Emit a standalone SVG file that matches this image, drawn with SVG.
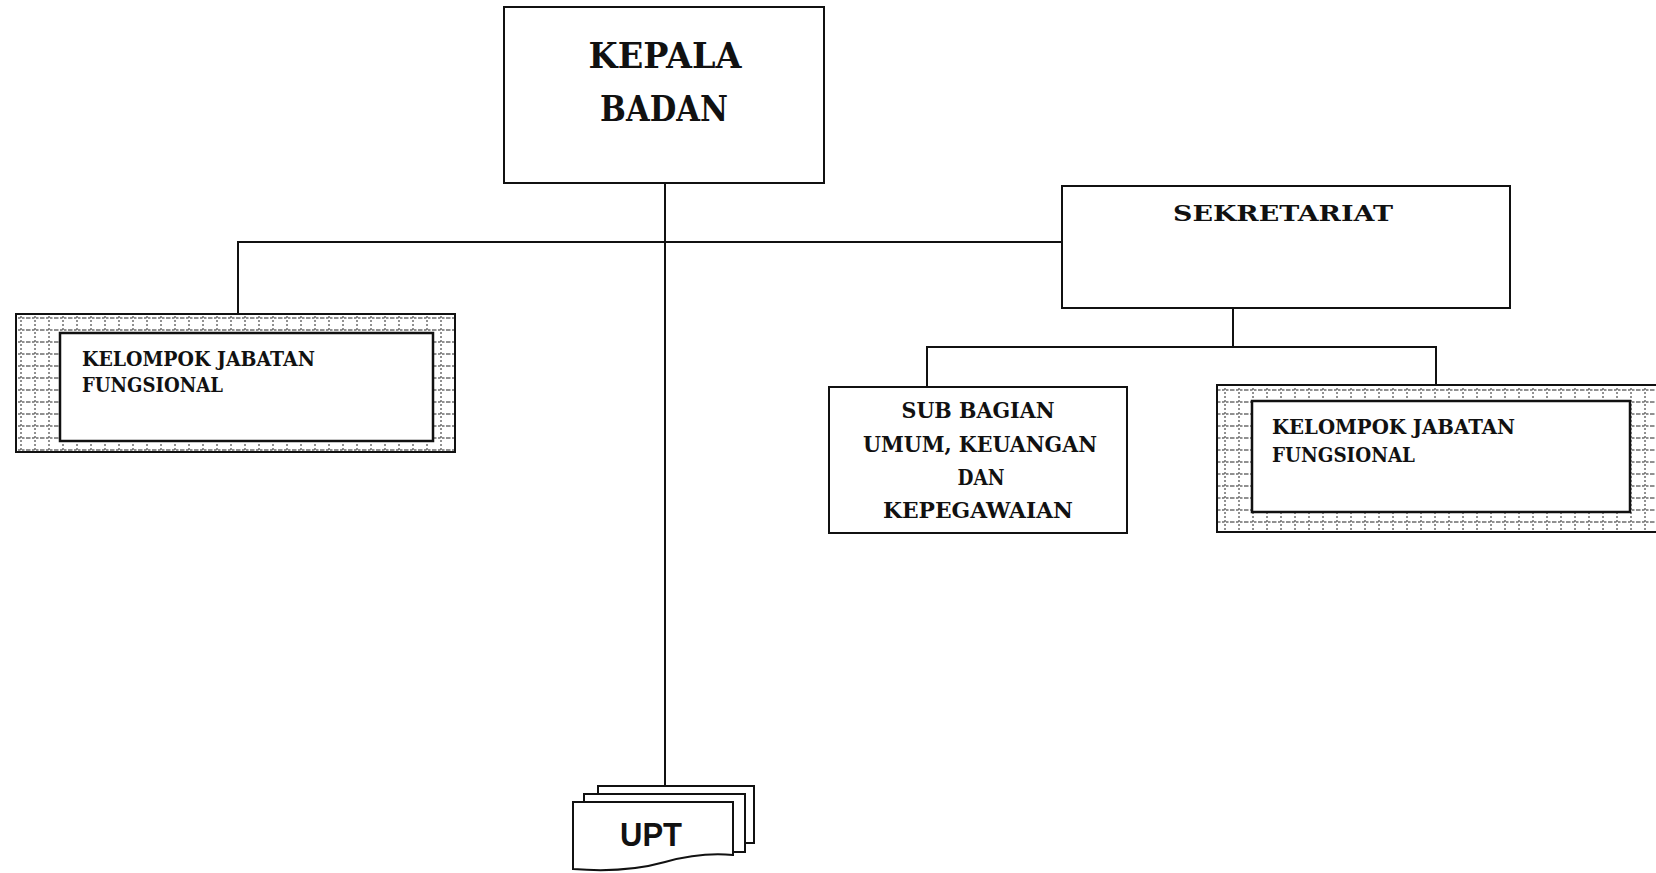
<svg xmlns="http://www.w3.org/2000/svg" width="1656" height="873" viewBox="0 0 1656 873">
<style>
.box{fill:#fff;stroke:#111;stroke-width:2}
.inner{fill:#fff;stroke:#111;stroke-width:2.5}
.conn line{stroke:#111;stroke-width:2}
.t{font-family:"DejaVu Serif","Liberation Serif",serif;font-weight:bold;fill:#111}
.s{font-family:"Liberation Sans",Arial,sans-serif;font-weight:bold;fill:#111}
</style>
<defs>
<pattern id="hatch" width="14" height="12" patternUnits="userSpaceOnUse">
<rect width="14" height="12" fill="#fff"/>
<line x1="0" y1="6" x2="14" y2="6" stroke="#222" stroke-width="1" stroke-dasharray="2.5 1.5"/>
<line x1="7" y1="0" x2="7" y2="12" stroke="#222" stroke-width="1" stroke-dasharray="2 2"/>
</pattern>
</defs>
<rect width="1656" height="873" fill="#fff"/>
<g class="conn" id="connectors">
<line x1="665" y1="183" x2="665" y2="786"/>
<line x1="238" y1="242" x2="1062" y2="242"/>
<line x1="238" y1="241" x2="238" y2="314"/>
<line x1="1233" y1="308" x2="1233" y2="347"/>
<line x1="927" y1="347" x2="1436" y2="347"/>
<line x1="927" y1="346" x2="927" y2="387"/>
<line x1="1436" y1="346" x2="1436" y2="385"/>
</g>
<g id="kepala">
<rect class="box" x="504" y="7" width="320" height="176"/>
<text class="t" x="665" y="68" font-size="36" text-anchor="middle" textLength="153" lengthAdjust="spacingAndGlyphs">KEPALA</text>
<text class="t" x="664" y="121" font-size="36" text-anchor="middle" textLength="128" lengthAdjust="spacingAndGlyphs">BADAN</text>
</g>
<g id="sekretariat">
<rect class="box" x="1062" y="186" width="448" height="122"/>
<text class="t" x="1283" y="221" font-size="22" text-anchor="middle" textLength="220" lengthAdjust="spacingAndGlyphs">SEKRETARIAT</text>
</g>
<g id="kjf-left">
<rect x="16" y="314" width="439" height="138" fill="url(#hatch)" stroke="#111" stroke-width="2"/>
<rect class="inner" x="60" y="333" width="373" height="108"/>
<text class="t" x="82" y="366" font-size="21" textLength="233" lengthAdjust="spacingAndGlyphs">KELOMPOK JABATAN</text>
<text class="t" x="82" y="392" font-size="21" textLength="141" lengthAdjust="spacingAndGlyphs">FUNGSIONAL</text>
</g>
<g id="subbagian">
<rect class="box" x="829" y="387" width="298" height="146"/>
<text class="t" x="978" y="418" font-size="22" text-anchor="middle" textLength="153" lengthAdjust="spacingAndGlyphs">SUB BAGIAN</text>
<text class="t" x="980" y="452" font-size="22" text-anchor="middle" textLength="234" lengthAdjust="spacingAndGlyphs">UMUM, KEUANGAN</text>
<text class="t" x="981" y="485" font-size="22" text-anchor="middle" textLength="47" lengthAdjust="spacingAndGlyphs">DAN</text>
<text class="t" x="978" y="518" font-size="22" text-anchor="middle" textLength="190" lengthAdjust="spacingAndGlyphs">KEPEGAWAIAN</text>
</g>
<g id="kjf-right">
<rect x="1217" y="385" width="460" height="147" fill="url(#hatch)" stroke="#111" stroke-width="2"/>
<rect class="inner" x="1252" y="401" width="378" height="111"/>
<text class="t" x="1272" y="434" font-size="21" textLength="243" lengthAdjust="spacingAndGlyphs">KELOMPOK JABATAN</text>
<text class="t" x="1272" y="462" font-size="21" textLength="143" lengthAdjust="spacingAndGlyphs">FUNGSIONAL</text>
</g>
<g id="upt">
<rect class="box" x="598" y="786" width="156" height="57"/>
<rect class="box" x="584" y="794" width="161" height="58"/>
<path class="box" d="M573,802 L733,802 L733,855 C712,853 690,855 665,862 C640,869 610,872 573,869 Z"/>
<text class="s" x="651" y="846" font-size="33" text-anchor="middle" textLength="62" lengthAdjust="spacingAndGlyphs">UPT</text>
</g>
</svg>
